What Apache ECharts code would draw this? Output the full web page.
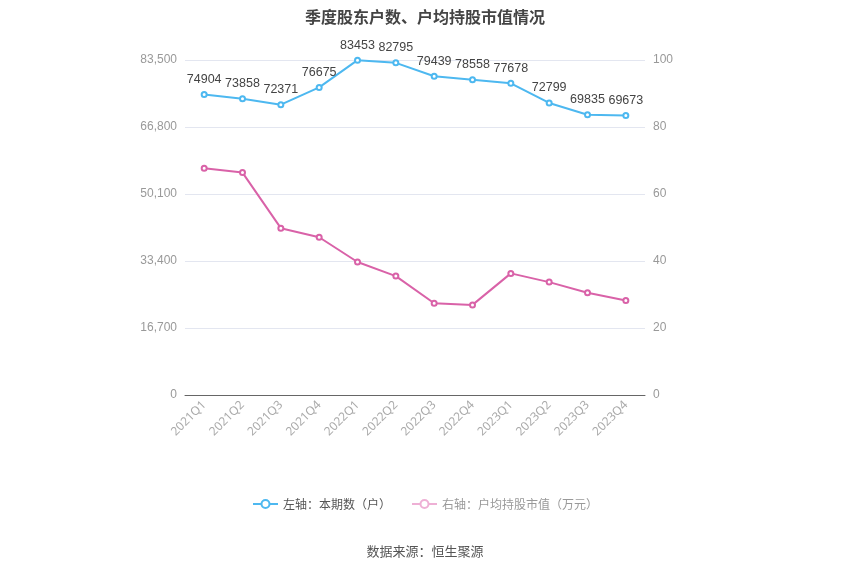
<!DOCTYPE html>
<html><head><meta charset="utf-8">
<script src="https://cdn.jsdelivr.net/npm/echarts@6/dist/echarts.min.js"></script>
<style>html,body{margin:0;padding:0;background:#fff}#c{width:850px;height:575px}</style>
</head><body><div id="c"></div>
<script>
var categories = ['2021Q1','2021Q2','2021Q3','2021Q4','2022Q1','2022Q2','2022Q3','2022Q4','2023Q1','2023Q2','2023Q3','2023Q4'];
var holders = [74904,73858,72371,76675,83453,82795,79439,78558,77678,72799,69835,69673];
var avgValue = [67.7,66.4,49.8,47.1,39.7,35.5,27.4,26.9,36.3,33.7,30.5,28.2];
var leftTicks = {min:0, max:83500, interval:16700};
var rightTicks = {min:0, max:100, interval:20};

var chart = echarts.init(document.getElementById('c'));
chart.setOption({
  backgroundColor:'#fff',
  title:{text:'季度股东户数、户均持股市值情况', left:'center', top:4,
    textStyle:{fontSize:16, fontWeight:'bold', color:'#444', fontFamily:'Noto Sans CJK SC'}},
  legend:{bottom:60, left:'center', itemGap:20, itemWidth:25, itemHeight:10,
    textStyle:{fontSize:12, color:'#555', fontFamily:'Noto Sans CJK SC'},
    data:[{name:'左轴：本期数（户）'},
          {name:'右轴：户均持股市值（万元）', textStyle:{color:'#999'},
           itemStyle:{color:'#eeb0d5', borderColor:'#eeb0d5'}, lineStyle:{color:'#eeb0d5'}}]},
  graphic:[{type:'text', left:'center', top:545, style:{text:'数据来源：恒生聚源', fill:'#555', fontSize:13, fontFamily:'Noto Sans CJK SC'}}],
  grid:{left:185, right:205, top:60, bottom:180},
  xAxis:{type:'category', data:categories, boundaryGap:true,
    axisLine:{lineStyle:{color:'#666'}}, axisTick:{alignWithLabel:false, lineStyle:{color:'#999'}},
    axisLabel:{rotate:45, color:'#aaa', fontSize:12, interval:0, fontFamily:'Noto Sans'}},
  yAxis:[
    {type:'value', min:leftTicks.min, max:leftTicks.max, interval:leftTicks.interval,
     axisLabel:{color:'#999', fontSize:12, formatter:function(v){return v.toLocaleString('en-US');}},
     splitLine:{lineStyle:{color:'#e3e6f0'}}, axisLine:{show:false}, axisTick:{show:false}},
    {type:'value', min:rightTicks.min, max:rightTicks.max, interval:rightTicks.interval,
     axisLabel:{color:'#999', fontSize:12},
     splitLine:{show:false}, axisLine:{show:false}, axisTick:{show:false}}
  ],
  series:[
    {name:'左轴：本期数（户）', type:'line', yAxisIndex:0, data:holders,
     symbol:'emptyCircle', symbolSize:5, color:'#4db8f0',
     lineStyle:{width:2, color:'#4db8f0'}, itemStyle:{color:'#4db8f0', borderWidth:2},
     label:{show:true, position:'top', color:'#444', fontSize:12.5, distance:5}},
    {name:'右轴：户均持股市值（万元）', type:'line', yAxisIndex:1, data:avgValue,
     symbol:'emptyCircle', symbolSize:5, color:'#d962a8',
     lineStyle:{width:2, color:'#d962a8'}, itemStyle:{color:'#d962a8', borderWidth:2}}
  ]
});
</script></body></html>
